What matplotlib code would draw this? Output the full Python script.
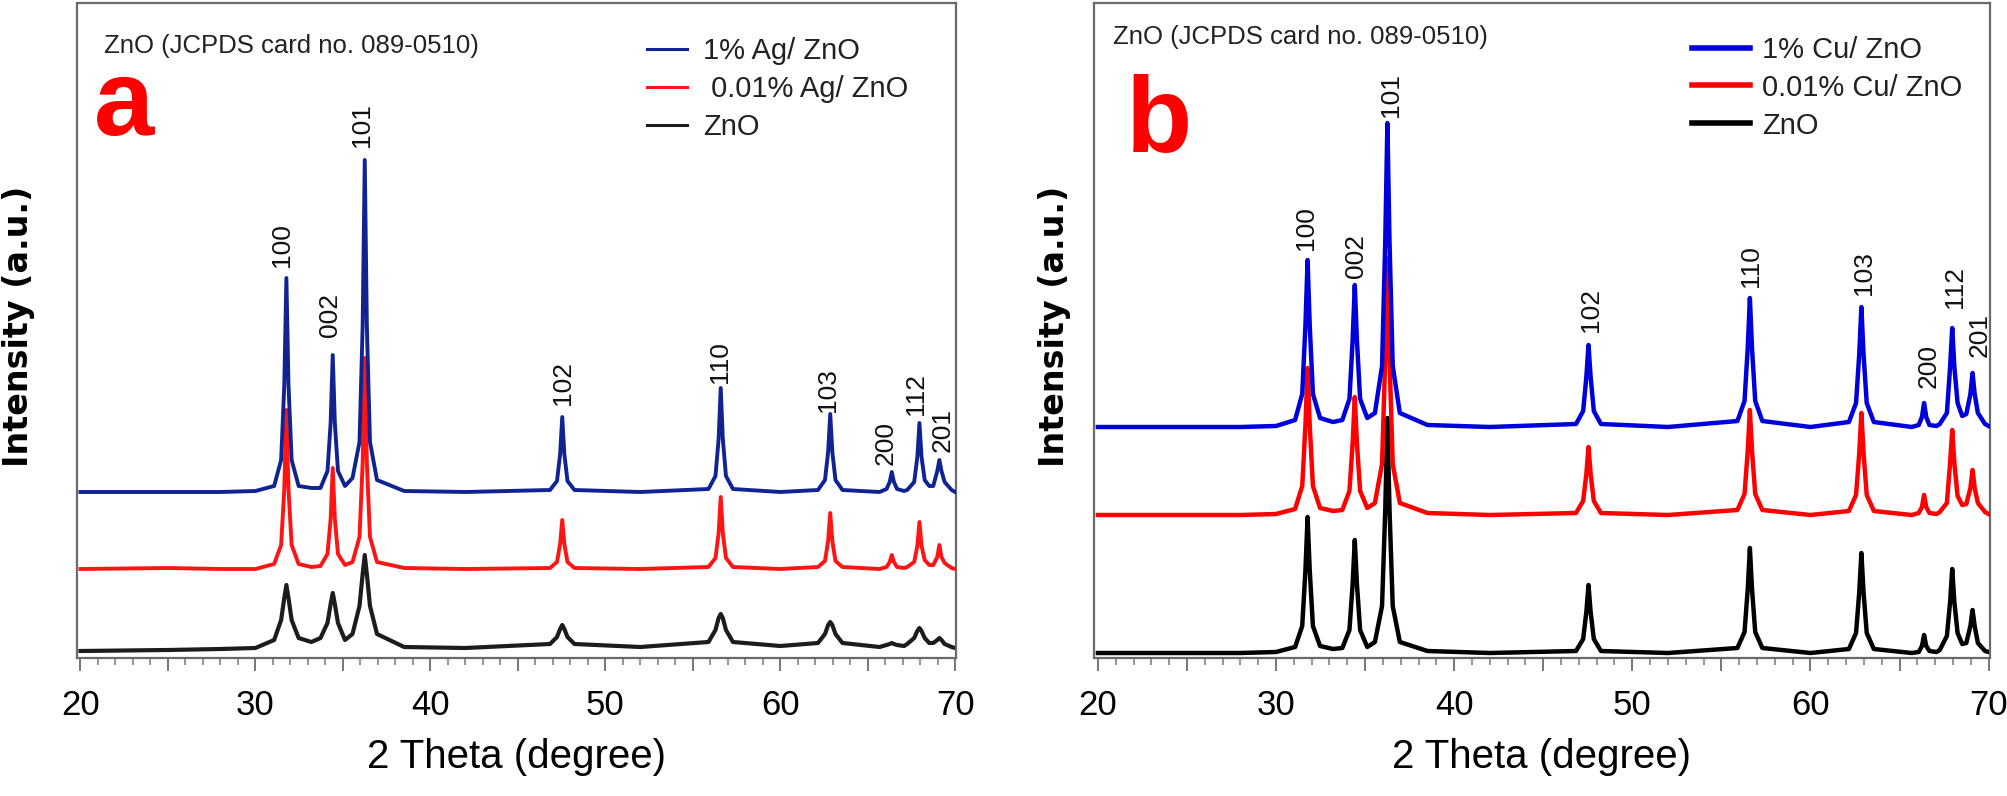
import matplotlib
matplotlib.use("Agg")
import matplotlib.pyplot as plt
from matplotlib.ticker import MultipleLocator, FuncFormatter
from matplotlib.lines import Line2D

# ---------------- data ----------------
two_theta = [20.0, 25.0, 28.0, 30.0,
             31.07, 31.47, 31.65, 31.77, 31.89, 32.07, 32.47, 33.2,
             33.72, 34.12, 34.30, 34.42, 34.54, 34.72, 35.12,
             35.55, 35.95, 36.13, 36.25, 36.37, 36.55, 36.95, 38.5, 42.0,
             46.84, 47.24, 47.42, 47.54, 47.66, 47.84, 48.24, 52.0,
             55.9, 56.3, 56.48, 56.60, 56.72, 56.90, 57.30, 60.0,
             62.16, 62.56, 62.74, 62.86, 62.98, 63.16, 63.56,
             65.68, 66.08, 66.26, 66.38, 66.50, 66.68, 67.08,
             67.26, 67.66, 67.84, 67.96, 68.08, 68.26, 68.52,
             68.75, 68.98, 69.10, 69.22, 69.40, 69.80, 70.0]

# panel a : Ag/ZnO (intensity in arbitrary units, stacked)
a_ag1 = [166, 166, 166, 167,
         172, 198, 273, 380, 273, 198, 172, 170,
         170, 187, 235, 303, 235, 187, 172,
         180, 216, 332, 498, 332, 216, 178, 167, 166,
         168, 177, 204, 241, 204, 177, 168, 166,
         169, 182, 219, 270, 219, 182, 169, 166,
         168, 178, 206, 244, 206, 178, 168,
         166, 169, 176, 186, 176, 169, 167,
         168, 176, 201, 235, 201, 178, 172,
         172, 187, 198, 187, 176, 168, 166]
a_ag001 = [89, 90, 89, 89,
           94, 113, 169, 248, 169, 113, 94, 91,
           92, 104, 139, 190, 139, 104, 93,
           96, 121, 195, 300, 195, 121, 96, 90, 89,
           90, 96, 114, 138, 114, 96, 90, 89,
           91, 100, 125, 161, 125, 100, 91, 89,
           91, 97, 117, 145, 117, 97, 91,
           89, 91, 96, 103, 96, 91, 90,
           91, 96, 112, 136, 112, 98, 93,
           93, 101, 113, 101, 95, 90, 89]
a_zno = [7, 8, 9, 10,
         18, 38, 60, 73, 60, 38, 20, 16,
         20, 35, 54, 65, 54, 35, 18,
         24, 52, 84, 103, 84, 52, 24, 11, 10,
         14, 21, 29, 33, 29, 21, 14, 11,
         16, 28, 40, 44, 40, 28, 16, 12,
         15, 24, 33, 36, 33, 24, 15,
         11, 13, 14, 15, 14, 13, 12,
         14, 20, 27, 30, 27, 20, 15,
         15, 18, 20, 18, 14, 11, 10]

# panel b : Cu/ZnO
b_cu1 = [231, 231, 231, 232,
         238, 264, 333, 398, 333, 264, 240, 236,
         238, 259, 318, 373, 318, 259, 240,
         245, 292, 416, 535, 416, 292, 245, 233, 231,
         234, 247, 281, 313, 281, 247, 234, 231,
         237, 257, 310, 360, 310, 257, 237, 231,
         236, 255, 304, 351, 304, 255, 236,
         231, 233, 241, 255, 241, 233, 232,
         234, 245, 291, 330, 291, 255, 242,
         244, 264, 285, 264, 245, 234, 232]
b_cu001 = [143, 143, 143, 144,
           149, 172, 233, 290, 233, 172, 150, 147,
           148, 167, 215, 261, 215, 167, 150,
           155, 194, 300, 400, 300, 194, 155, 145, 143,
           145, 157, 184, 211, 184, 157, 145, 143,
           148, 164, 207, 248, 207, 164, 148, 143,
           147, 163, 205, 245, 205, 163, 147,
           143, 145, 151, 163, 151, 145, 144,
           146, 155, 195, 228, 195, 162, 153,
           154, 170, 188, 170, 155, 146, 144]
b_zno = [5, 5, 5, 6,
         11, 32, 88, 141, 88, 32, 12, 9,
         10, 28, 74, 118, 74, 28, 11,
         16, 52, 148, 240, 148, 52, 16, 7, 5,
         7, 19, 46, 73, 46, 19, 7, 5,
         10, 26, 69, 110, 69, 26, 10, 5,
         9, 25, 66, 105, 66, 25, 9,
         5, 6, 12, 23, 12, 7, 6,
         8, 22, 56, 89, 56, 25, 14,
         15, 32, 48, 32, 15, 7, 6]

legend_a = ["1% Ag/ ZnO", " 0.01% Ag/ ZnO", "ZnO"]
legend_b = ["1% Cu/ ZnO", "0.01% Cu/ ZnO", "ZnO"]

hkl = ["100", "002", "101", "102", "110", "103", "200", "112", "201"]
a_lab_x = [31.53, 34.28, 36.11, 47.56, 56.55, 62.73, 66.05, 67.77, 69.30]
a_lab_y = [391, 321, 511, 253, 275, 246, 193, 243, 206]
b_lab_x = [31.68, 34.49, 36.45, 47.68, 56.67, 63.0, 66.66, 68.10, 69.47]
b_lab_y = [408, 380, 541, 326, 371, 363, 270, 350, 301]

card_text = "ZnO (JCPDS card no. 089-0510)"
xlabel = "2 Theta (degree)"
ylabel = "Intensity (a.u.)"

# ---------------- figure ----------------
W, H = 2007, 796
fig = plt.figure(figsize=(W / 100, H / 100), dpi=100)

arial = ["Liberation Sans", "DejaVu Sans"]

def px_axes(l, r, t, b):
    return [l / W, 1 - b / H, (r - l) / W, (b - t) / H]

ax_a = fig.add_axes(px_axes(77, 956, 3, 658))
ax_b = fig.add_axes(px_axes(1094, 1990, 3, 658))

def style(ax, xlim):
    ax.set_xlim(*xlim)
    ax.set_ylim(0, 655)
    ax.set_yticks([])
    ax.xaxis.set_major_locator(MultipleLocator(5))
    ax.xaxis.set_minor_locator(MultipleLocator(1))
    ax.xaxis.set_major_formatter(FuncFormatter(
        lambda v, p: f"{int(round(v))}" if int(round(v)) % 10 == 0 else ""))
    ax.tick_params(axis="x", which="major", length=9.5, width=1.4,
                   color="#777777", pad=13, labelsize=25)
    ax.tick_params(axis="x", which="minor", length=5, width=1.1,
                   color="#777777")
    for lab in ax.get_xticklabels():
        lab.set_family(arial)
    for s in ax.spines.values():
        s.set_color("#6a6a6a")
        s.set_linewidth(1.6)
    ax.set_xlabel(xlabel, fontsize=29, family=arial)
    ax.xaxis.set_label_coords(0.5, -0.122)

style(ax_a, (19.8, 70.05))
style(ax_b, (19.78, 70.08))

# panel a curves
cols_a = ["#0f2492", "#ff1414", "#1c1c1c"]
ax_a.plot(two_theta, a_zno, color=cols_a[2], lw=3.0, zorder=2, solid_joinstyle="round")
ax_a.plot(two_theta, a_ag001, color=cols_a[1], lw=2.8, zorder=3, solid_joinstyle="round")
ax_a.plot(two_theta, a_ag1, color=cols_a[0], lw=2.8, zorder=4, solid_joinstyle="round")

cols_b = ["#0000dd", "#ff0000", "#000000"]
ax_b.plot(two_theta, b_zno, color=cols_b[2], lw=3.2, zorder=2, solid_joinstyle="round")
ax_b.plot(two_theta, b_cu001, color=cols_b[1], lw=3.2, zorder=3, solid_joinstyle="round")
ax_b.plot(two_theta, b_cu1, color=cols_b[0], lw=3.2, zorder=4, solid_joinstyle="round")

# peak labels
for t, x, y in zip(hkl, a_lab_x, a_lab_y):
    ax_a.text(x, y, t, rotation=90, ha="center", va="bottom",
              fontsize=19, family=arial, color="#111111")
for t, x, y in zip(hkl, b_lab_x, b_lab_y):
    ax_b.text(x, y, t, rotation=90, ha="center", va="bottom",
              fontsize=19, family=arial, color="#111111")

# y labels
ax_a.set_ylabel(ylabel, fontsize=24, fontweight="bold", family="DejaVu Sans")
ax_a.yaxis.set_label_coords(-0.067, 0.507)
ax_a.yaxis.label.set_va("center")
ax_b.set_ylabel(ylabel, fontsize=24, fontweight="bold", family="DejaVu Sans")
ax_b.yaxis.set_label_coords(-0.0446, 0.507)
ax_b.yaxis.label.set_va("center")

# card text
ax_a.text(0.0307, 0.924, card_text, transform=ax_a.transAxes, fontsize=18.5,
          family=arial, va="baseline", ha="left", color="#222222")
ax_b.text(0.0212, 0.937, card_text, transform=ax_b.transAxes, fontsize=18.5,
          family=arial, va="baseline", ha="left", color="#222222")

# panel letters
ax_a.text(0.019, 0.798, "a", transform=ax_a.transAxes, fontsize=78,
          fontweight="bold", family=arial, color="#ff0000", va="baseline")
ax_b.text(0.036, 0.773, "b", transform=ax_b.transAxes, fontsize=78,
          fontweight="bold", family=arial, color="#ff0000", va="baseline")

# legends
h_a = [Line2D([], [], color=c, lw=2.2) for c in cols_a]
leg_a = ax_a.legend(h_a, legend_a, loc="upper left", bbox_to_anchor=(0.648, 0.948),
                    frameon=False, borderpad=0, borderaxespad=0, handlelength=1.4,
                    handletextpad=0.55, labelspacing=0.34,
                    prop={"family": arial, "size": 21})
h_b = [Line2D([], [], color=c, lw=4) for c in cols_b]
leg_b = ax_b.legend(h_b, legend_b, loc="upper left", bbox_to_anchor=(0.667, 0.950),
                    frameon=False, borderpad=0, borderaxespad=0, handlelength=2.0,
                    handletextpad=0.4, labelspacing=0.34,
                    prop={"family": arial, "size": 21})
for t in leg_a.get_texts() + leg_b.get_texts():
    t.set_color("#222222")

fig.savefig("out.png", dpi=100)
